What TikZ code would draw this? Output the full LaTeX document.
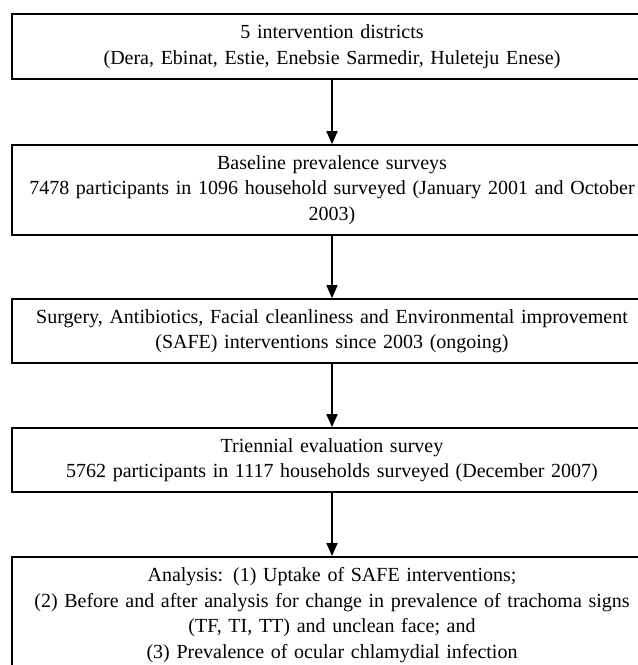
\documentclass[tikz,border=0pt]{standalone}
\usepackage{fontspec}
\setmainfont{Liberation Serif}
\usetikzlibrary{arrows.meta}
\begin{document}
\begin{tikzpicture}[x=1pt,y=-1pt,
  box/.style={draw=black, line width=1.7pt, rectangle, minimum width=640pt,
    text width=630pt, align=center, inner xsep=0pt, inner ysep=0pt,
    font=\fontsize{20}{25.5}\selectfont},
  conn/.style={line width=1.7pt, -{Triangle[length=13pt,width=11pt]}}]
\useasboundingbox (0,0) rectangle (638,665);
\clip (0,0) rectangle (638,665);
\node[box, minimum height=65pt] (b1) at (332,46.5)
  {5 intervention districts\\(Dera, Ebinat, Estie, Enebsie Sarmedir, Huleteju Enese)};
\node[box, minimum height=90pt] (b2) at (332,190)
  {Baseline prevalence surveys\\7478 participants in 1096 household surveyed (January 2001 and October\\2003)};
\node[box, minimum height=64pt] (b3) at (332,331)
  {Surgery, Antibiotics, Facial cleanliness and Environmental improvement\\(SAFE) interventions since 2003 (ongoing)};
\node[box, minimum height=64pt] (b4) at (332,460)
  {Triennial evaluation survey\\5762 participants in 1117 households surveyed (December 2007)};
\node[box, anchor=north, inner ysep=11pt, minimum height=125pt] (b5) at (332,556)
  {Analysis: (1) Uptake of SAFE interventions;\\(2) Before and after analysis for change in prevalence of trachoma signs\\(TF, TI, TT) and unclean face; and\\(3) Prevalence of ocular chlamydial infection\\[8pt]\mbox{}};
\draw[conn] (b1) -- (b2);
\draw[conn] (b2) -- (b3);
\draw[conn] (b3) -- (b4);
\draw[conn] (b4) -- (b5);
\end{tikzpicture}
\end{document}
